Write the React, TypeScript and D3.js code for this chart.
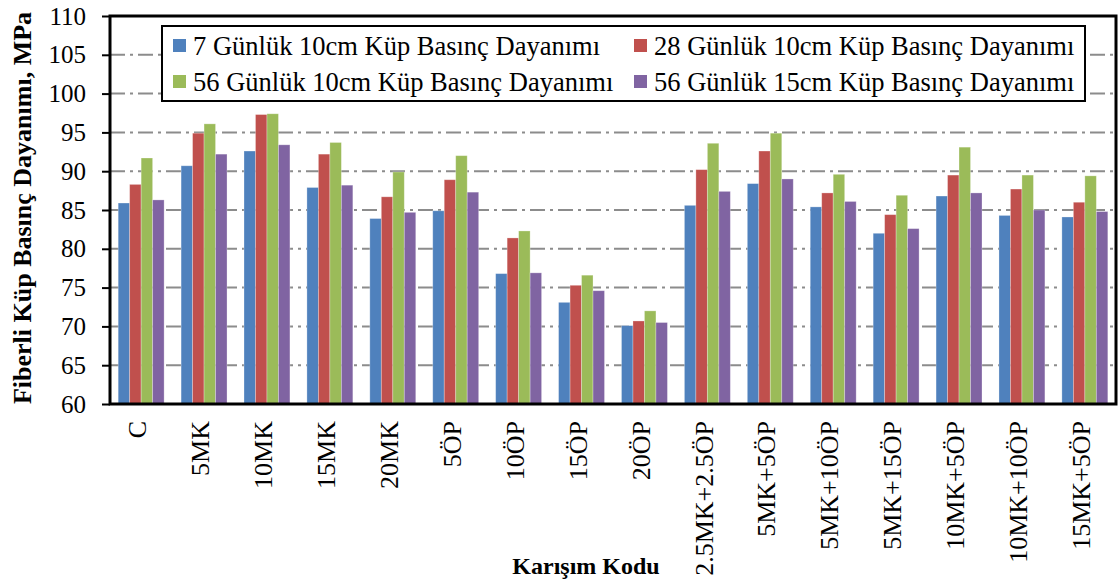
import React, { useRef, useEffect } from "react";
import * as d3 from "d3";

// mixture codes on the x axis
const categories = [
  "C", "5MK", "10MK", "15MK", "20MK", "5ÖP", "10ÖP", "15ÖP", "20ÖP",
  "2.5MK+2.5ÖP", "5MK+5ÖP", "5MK+10ÖP", "5MK+15ÖP", "10MK+5ÖP", "10MK+10ÖP", "15MK+5ÖP",
];

const seriesNames = [
  "7 Günlük 10cm Küp Basınç Dayanımı",
  "28 Günlük 10cm Küp Basınç Dayanımı",
  "56 Günlük 10cm Küp Basınç Dayanımı",
  "56 Günlük 15cm Küp Basınç Dayanımı",
];
const seriesColors = ["#4F81BD", "#C0504D", "#9BBB59", "#8064A2"];

const day7_10cm = [85.9, 90.7, 92.6, 87.9, 83.9, 84.9, 76.8, 73.1, 70.1, 85.6, 88.4, 85.4, 82.0, 86.8, 84.3, 84.1];
const day28_10cm = [88.3, 94.9, 97.3, 92.2, 86.7, 88.9, 81.4, 75.3, 70.7, 90.2, 92.6, 87.2, 84.4, 89.5, 87.7, 86.0];
const day56_10cm = [91.7, 96.1, 97.4, 93.7, 89.9, 92.0, 82.3, 76.6, 72.0, 93.6, 94.9, 89.6, 86.9, 93.1, 89.5, 89.4];
const day56_15cm = [86.3, 92.2, 93.4, 88.2, 84.7, 87.3, 76.9, 74.6, 70.5, 87.4, 89.0, 86.1, 82.6, 87.2, 85.0, 84.8];

const yTicks = [60, 65, 70, 75, 80, 85, 90, 95, 100, 105, 110];

const FONT = "'Liberation Serif', 'Times New Roman', serif";

export default function App() {
  const svgRef = useRef(null);
  const width = 1118;
  const height = 585;

  useEffect(() => {
    const margin = { top: 16, right: 2, bottom: 181, left: 110 };
    const series = [day7_10cm, day28_10cm, day56_10cm, day56_15cm];

    const svg = d3.select(svgRef.current);
    svg.selectAll("*").remove();

    const x = d3
      .scaleBand()
      .domain(categories)
      .range([margin.left, width - margin.right])
      .paddingInner(0.27)
      .paddingOuter(0.13);

    const xInner = d3
      .scaleBand()
      .domain(d3.range(series.length).map(String))
      .range([0, x.bandwidth()]);

    const y = d3
      .scaleLinear()
      .domain([60, 110])
      .range([height - margin.bottom, margin.top]);

    // gridlines (dash-dot)
    svg
      .append("g")
      .selectAll("line")
      .data(yTicks.filter((t) => t > 60 && t < 110))
      .join("line")
      .attr("x1", margin.left)
      .attr("x2", width - margin.right)
      .attr("y1", (d) => y(d))
      .attr("y2", (d) => y(d))
      .attr("stroke", "#8c8c8c")
      .attr("stroke-width", 2)
      .attr("stroke-dasharray", "15,5,3,5");

    // bars
    const groups = svg
      .append("g")
      .selectAll("g")
      .data(categories)
      .join("g")
      .attr("transform", (d) => `translate(${x(d)},0)`);

    groups
      .selectAll("rect")
      .data((d, i) => series.map((s, k) => ({ k, v: s[i] })))
      .join("rect")
      .attr("x", (d) => xInner(String(d.k)))
      .attr("y", (d) => y(d.v))
      .attr("width", xInner.bandwidth())
      .attr("height", (d) => y(60) - y(d.v))
      .attr("fill", (d) => seriesColors[d.k])
      .attr("stroke", "#ffffff")
      .attr("stroke-opacity", 0.35)
      .attr("stroke-width", 0.8);

    // y axis
    const yAxis = svg
      .append("g")
      .attr("transform", `translate(${margin.left},0)`)
      .call(d3.axisLeft(y).tickValues(yTicks).tickSize(8).tickPadding(16));
    yAxis.select(".domain").remove();
    yAxis.selectAll("line").attr("stroke", "#000").attr("stroke-width", 2);
    yAxis
      .selectAll("text")
      .attr("font-family", FONT)
      .attr("font-size", 25)
      .attr("fill", "#000");

    // plot frame
    svg
      .append("rect")
      .attr("x", margin.left)
      .attr("y", margin.top)
      .attr("width", width - margin.right - margin.left)
      .attr("height", height - margin.bottom - margin.top)
      .attr("fill", "none")
      .attr("stroke", "#000")
      .attr("stroke-width", 3);

    // x labels, rotated
    svg
      .append("g")
      .selectAll("text")
      .data(categories)
      .join("text")
      .attr("transform", (d) => `translate(${x(d) + x.bandwidth() / 2},421) rotate(-90)`)
      .attr("dy", "0.2em")
      .attr("text-anchor", "end")
      .attr("font-family", FONT)
      .attr("font-size", 26)
      .attr("fill", "#000")
      .text((d) => d);

    // axis titles
    svg
      .append("text")
      .attr("x", 586)
      .attr("y", 574)
      .attr("text-anchor", "middle")
      .attr("font-family", FONT)
      .attr("font-weight", "bold")
      .attr("font-size", 24)
      .text("Karışım Kodu");

    svg
      .append("text")
      .attr("transform", "translate(31,208) rotate(-90)")
      .attr("text-anchor", "middle")
      .attr("font-family", FONT)
      .attr("font-weight", "bold")
      .attr("font-size", 26)
      .text("Fiberli Küp Basınç Dayanımı, MPa");

    // legend
    const legend = svg.append("g");
    legend
      .append("rect")
      .attr("x", 162)
      .attr("y", 26)
      .attr("width", 923)
      .attr("height", 75)
      .attr("fill", "#fff")
      .attr("stroke", "#000")
      .attr("stroke-width", 2);

    const items = legend
      .selectAll("g")
      .data(seriesNames)
      .join("g")
      .attr("transform", (d, i) => `translate(${i % 2 === 0 ? 173 : 634},${i < 2 ? 46 : 82})`);

    items
      .append("rect")
      .attr("x", 0)
      .attr("y", -7)
      .attr("width", 13)
      .attr("height", 13)
      .attr("fill", (d, i) => seriesColors[i]);

    items
      .append("text")
      .attr("x", 20)
      .attr("dy", "0.33em")
      .attr("font-family", FONT)
      .attr("font-size", 26.5)
      .attr("fill", "#000")
      .text((d) => d);
  }, []);

  return (
    <svg
      ref={svgRef}
      width={width}
      height={height}
      style={{ position: "absolute", left: 0, top: 0, background: "#fff" }}
    ></svg>
  );
}
